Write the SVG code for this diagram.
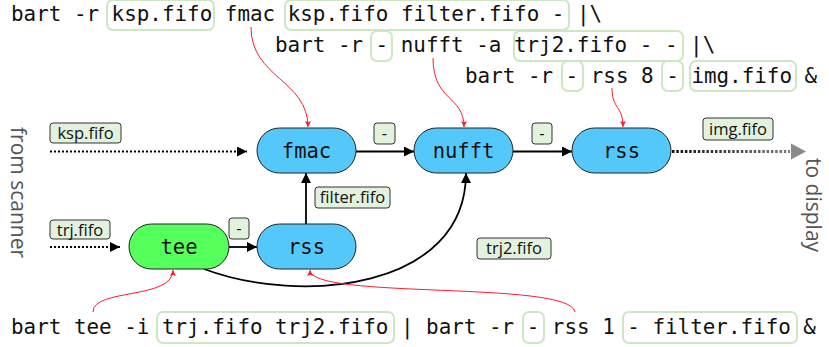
<svg xmlns="http://www.w3.org/2000/svg" width="829" height="347" viewBox="0 0 829 347">
  <style>
    .cmd { font-family: "DejaVu Sans Mono", "Liberation Mono", monospace; font-size: 20.9px; fill: #111; white-space: pre; }
    .hl { fill: none; stroke: #cbe8c3; stroke-width: 2; }
    .node { stroke: #222; stroke-width: 1; }
    .blue { fill: #55c8fb; }
    .green { fill: #55ff5c; }
    .ntext { font-family: "DejaVu Sans Mono", "Liberation Mono", monospace; font-size: 20.5px; fill: #111; text-anchor: middle; }
    .lab rect { fill: #e2f2dc; stroke: #333; stroke-width: 1; }
    .lab text { font-family: "Open Sans", "Noto Sans", sans-serif; font-size: 16.5px; fill: #111; text-anchor: middle; }
    .edge { fill: none; stroke: #000; stroke-width: 1.8; }
    .dots { fill: none; stroke: #000; stroke-width: 2; stroke-dasharray: 2 2; }
    .ref { fill: none; stroke: #ff1a2e; stroke-width: 1; }
    .side { font-family: "Open Sans", "Noto Sans", sans-serif; font-size: 21px; fill: #555; }
  </style>
  <defs>
    <marker id="arr" viewBox="0 0 10 10" refX="10" refY="5" markerWidth="10" markerHeight="10" markerUnits="userSpaceOnUse" orient="auto">
      <path d="M0,0 L10,5 L0,10 Z" fill="#000"/>
    </marker>
    <marker id="rarr" viewBox="0 0 10 10" refX="10" refY="5" markerWidth="8" markerHeight="6" markerUnits="userSpaceOnUse" orient="auto">
      <path d="M0,0 L10,5 L0,10 L2,5 Z" fill="#ff1a2e"/>
    </marker>
    <linearGradient id="fade" gradientUnits="userSpaceOnUse" x1="672" y1="0" x2="806" y2="0">
      <stop offset="0" stop-color="#111"/>
      <stop offset="1" stop-color="#8a8a8a"/>
    </linearGradient>
  </defs>

  <!-- command lines with highlighted fifo arguments -->
  <g id="commands">
    <rect class="hl" x="107" y="0" width="107" height="30" rx="6"/>
    <rect class="hl" x="285" y="0" width="284" height="30" rx="6"/>
    <text class="cmd" x="11" y="21">bart -r ksp.fifo fmac ksp.fifo filter.fifo - |\</text>

    <rect class="hl" x="371" y="31" width="21" height="30" rx="6"/>
    <rect class="hl" x="514" y="31" width="169" height="30" rx="6"/>
    <text class="cmd" x="275" y="52">bart -r - nufft -a trj2.fifo - - |\</text>

    <rect class="hl" x="562" y="61" width="21" height="30" rx="6"/>
    <rect class="hl" x="662" y="61" width="21" height="30" rx="6"/>
    <rect class="hl" x="690" y="61" width="106" height="30" rx="6"/>
    <text class="cmd" x="465" y="83">bart -r - rss 8 - img.fifo &amp;</text>

    <rect class="hl" x="157" y="312" width="237" height="31" rx="6"/>
    <rect class="hl" x="523" y="312" width="21" height="31" rx="6"/>
    <rect class="hl" x="623" y="312" width="174" height="31" rx="6"/>
    <text class="cmd" x="11" y="334">bart tee -i trj.fifo trj2.fifo | bart -r - rss 1 - filter.fifo &amp;</text>
  </g>

  <!-- side captions -->
  <text class="side" transform="translate(11,127) rotate(90)">from scanner</text>
  <text class="side" transform="translate(806,158) rotate(90)">to display</text>

  <!-- connectors -->
  <g id="connectors">
    <path class="dots" d="M50,151.5 H247" marker-end="url(#arr)"/>
    <path class="dots" d="M50,247 H120" marker-end="url(#arr)"/>
    <path class="edge" d="M356,151.5 H414" marker-end="url(#arr)"/>
    <path class="edge" d="M513,151.5 H572" marker-end="url(#arr)"/>
    <path class="edge" d="M229,247 H257" marker-end="url(#arr)"/>
    <path class="edge" d="M306,224 V173" marker-end="url(#arr)"/>
    <path class="edge" d="M204,269 C300,305 466,290 466,173" marker-end="url(#arr)"/>
    <path d="M672,151.5 H790" fill="none" stroke="url(#fade)" stroke-width="3" stroke-dasharray="2.5 1.8"/>
    <path d="M791,143.5 L806,151.5 L791,159.5 Z" fill="#8a8a8a"/>

    <!-- references from command text to the nodes -->
    <path class="ref" d="M251,27 C251,78 308,80 308,127" marker-end="url(#rarr)"/>
    <path class="ref" d="M433,58 C433,102 464,95 464,127" marker-end="url(#rarr)"/>
    <path class="ref" d="M612,88 C612,110 623,105 623,127" marker-end="url(#rarr)"/>
    <path class="ref" d="M93,312 C93,288 173,300 173,270" marker-end="url(#rarr)"/>
    <path class="ref" d="M575,312 C570,280 310,300 310,270" marker-end="url(#rarr)"/>
  </g>

  <!-- fifo labels -->
  <g class="lab">
    <rect x="50" y="123" width="71" height="20" rx="3"/><text x="85.5" y="139">ksp.fifo</text>
    <rect x="50" y="220" width="60" height="19" rx="3"/><text x="80" y="235.5">trj.fifo</text>
    <rect x="374" y="123" width="21" height="21" rx="3"/><text x="384.5" y="138.5">-</text>
    <rect x="532" y="123" width="20" height="21" rx="3"/><text x="542" y="138.5">-</text>
    <rect x="229" y="218" width="20" height="21" rx="3"/><text x="239" y="233.5">-</text>
    <rect x="315" y="187" width="75" height="21" rx="3"/><text x="352.5" y="203">filter.fifo</text>
    <rect x="703" y="118" width="70" height="22" rx="3"/><text x="738" y="134.5">img.fifo</text>
    <rect x="477" y="238" width="74" height="21" rx="3"/><text x="514" y="254">trj2.fifo</text>
  </g>

  <!-- processing nodes -->
  <g id="fmac">
    <rect class="node blue" x="257" y="128" width="99" height="45" rx="22.5"/>
    <text class="ntext" x="306.5" y="158">fmac</text>
  </g>
  <g id="nufft">
    <rect class="node blue" x="414" y="128" width="99" height="45" rx="22.5"/>
    <text class="ntext" x="463.5" y="158">nufft</text>
  </g>
  <g id="rss_out">
    <rect class="node blue" x="572" y="128" width="99" height="45" rx="22.5"/>
    <text class="ntext" x="621.5" y="158">rss</text>
  </g>
  <g id="tee">
    <rect class="node green" x="129" y="224" width="100" height="45" rx="22.5"/>
    <text class="ntext" x="179" y="254">tee</text>
  </g>
  <g id="rss_filter">
    <rect class="node blue" x="257" y="224" width="99" height="45" rx="22.5"/>
    <text class="ntext" x="306.5" y="254">rss</text>
  </g>
</svg>
